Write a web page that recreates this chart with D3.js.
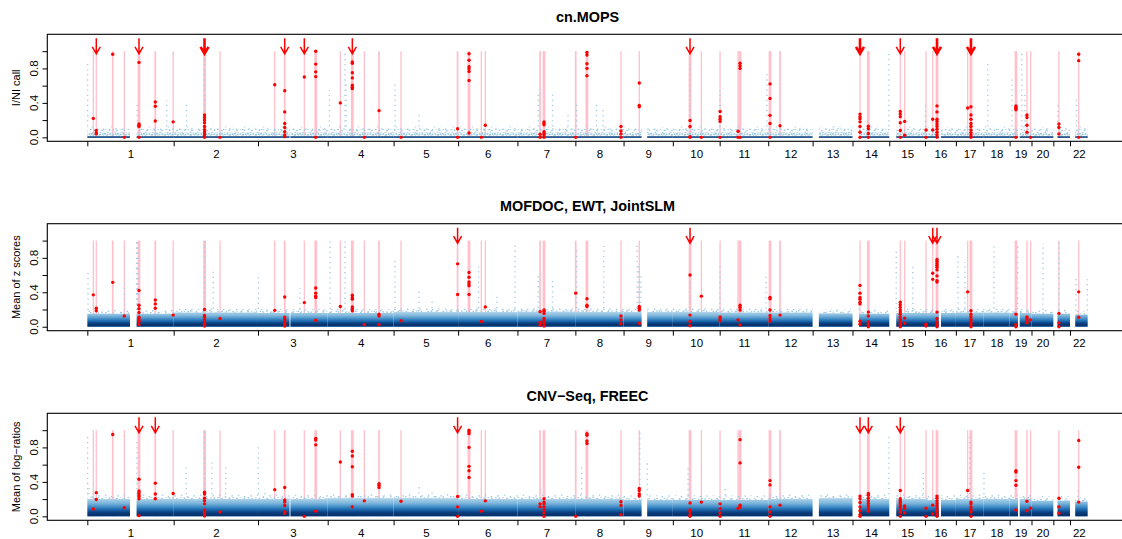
<!DOCTYPE html>
<html>
<head>
<meta charset="utf-8">
<script src="https://cdn.jsdelivr.net/npm/d3@7"></script>
<style>
  body { margin: 0; background: #fff; }
  svg { display: block; }
  text { font-family: "Liberation Sans", Arial, Helvetica, sans-serif; fill: #000; }
</style>
</head>
<body>
<svg id="chart" width="1122" height="539"></svg>
<script>
// ---------------- genome layout ----------------
const chromNames = d3.range(1, 23).map(String);
const chromLabels = ["1","2","3","4","5","6","7","8","9","10","11","12","13","14","15","16","17","18","19","20","","22"];
const chromLengthMb = [249,243,201,190,186,171,167,139,142,135,140,128,115,106,103,89,79,76,63,63,48,51];
// first covered position of each chromosome (short arms of acrocentrics carry no bins)
const chromDataStartMb = [0,0,0,0,0,0,0,0,0,0,0,0,18,19,20,0,0,0,0,0,12,15];
// uncovered stretches: [chromosome, fromMb, toMb]
const chromGapsMb = [[1,123,142],[3,91,93.5],[9,52,68],[16,40,46],[19,24,29]];

// ---------------- implanted CNV regions: [chromosome, centreMb, lengthMb] ----------------
const cnvRegions = [
  [1,17.3,1],[1,25.9,1],[1,73.2,5],[1,106.7,1],[1,149,8],[1,196,5],[1,247.5,1],
  [2,88.9,8],[2,133.6,1],
  [3,48.3,1],[3,77.1,5],[3,133.6,1],[3,166.5,8],
  [4,36.4,1],[4,71,8],[4,105.6,1],[4,148,5],
  [5,21.4,1],[5,184.5,5],
  [6,31.4,8],[6,66.9,1],[6,78.4,1],
  [7,65.2,5],[7,76.7,8],
  [8,1,5],[8,33.4,8],[8,131.5,1],
  [9,45.3,1],
  [10,49.6,8],[10,82.2,1],
  [11,1.2,1],[11,53,1],[11,58.8,8],
  [12,5.2,8],[12,34,5],
  [14,21.6,1],[14,45.6,8],
  [15,31.7,1],[15,44.4,1],
  [16,2.9,1],[16,22.2,1],[16,34.6,8],
  [17,34,1],[17,43.5,8],
  [19,18.2,8],[19,49.9,1],[19,60.5,1],
  [21,16.1,1],
  [22,25.1,1]
];

// ---------------- per-region scores of the called segments (one list per CNV region) ----------------
const mopsCalls = [
  [0.22],[0.08,0.05,0.04],[0.965],[0],[0.87,0.155,0.14,0.125,0],[0.41,0.36,0.19],[0.18],
  [0.26,0.23,0.2,0.17,0.125,0.09,0.065,0.04,0.015,0],[0],
  [0.61],[0.54,0.295,0.16,0.115,0.065,0.027,0.008],[0.70],[1.0,0.85,0.76,0.705,0],
  [0.40],[0.875,0.86,0.75,0.69,0.605,0.58,0.565],[0],[0.31],
  [0],[0.1,0],
  [0.97,0.895,0.82,0.795,0.765,0.66,0.05],[0],[0.14],
  [0.035,0],[0.18,0.16,0.145,0.065,0.045,0.027,0],
  [0],[0.985,0.955,0.855,0.8,0.715],[0.125,0.075,0.04,0],
  [0.63,0.37,0.355],
  [0.195,0.125,0.008,0],[0],
  [0.30,0.24,0.21,0.185,0],[0.07,0],[0.86,0.83,0.8,0],
  [0.62,0.45,0.255,0.16,0],[0.135],
  [0.27,0.24,0.215,0.18,0.125,0.06,0],[0.13,0.1,0.045,0],
  [0.3,0.27,0.24,0.17,0.08,0],[0.185,0.025],
  [0.085,0],[0.21,0.085],[0.365,0.295,0.21,0.185,0.155,0.125,0.095,0.06,0.03,0],
  [0.34],[0.355,0.26,0.21,0.16,0.125,0.085,0.055,0.027,0],
  [0.365,0.35,0.335,0.32,0],[0.26,0.23,0.14,0.06],[0],
  [0.155,0.115,0.04],
  [0.965,0.89,0]
];
const zScoreCalls = [
  [0.37],[0.215,0.185],[0.515],[0.125],[0.42,0.25,0.21,0.165,0.11,0.085,0.06,0.025],[0.31,0.265,0.215],[0.135],
  [0.2,0.13,0.11,0.08,0.055,0.03,0.008],[0.095],
  [0.19],[0.345,0.11,0.085,0.06,0.03,0.008],[0.28],[0.45,0.39,0.355,0.34,0.075],
  [0.235],[0.365,0.34,0.32,0.23,0.21,0.185],[0.025],[0.145,0.125,0.025],
  [0.07],[0.73,0.375],
  [0.63,0.575,0.52,0.495,0.475,0.375],[0.06],[0.23],
  [0.175,0.05,0.02],[0.195,0.18,0.155,0.095,0.07,0.04,0.008],
  [0.39],[0.325,0.25,0.235],[0.125,0.08,0.035],
  [0.235,0.215,0.195,0.04],
  [0.60,0.135,0.06,0.012],[0.355],
  [0.115,0.095,0.07],[0.08],[0.25,0.225,0.195,0.02],
  [0.34,0.325,0.195,0.13,0.095,0.065],[0.135],
  [0.48,0.39,0.34,0.32,0.285,0.265,0.065,0.03],[0.17,0.125,0.055,0.025,0],
  [0.285,0.255,0.225,0.195,0.17,0.145,0.115,0.085,0.055,0.025,0],[0.1,0.04],
  [0.03,0.008],[0.62,0.55],[0.78,0.76,0.735,0.715,0.69,0.66,0.59,0.535,0.52,0.17,0.095,0.055,0.025,0],
  [0.405],[0.185,0.145,0.115,0.085,0.055,0.025,0],
  [0.145,0.025,0],[0.115,0.095,0.07,0.045],[0.08],
  [0.155,0.045,0],
  [0.405,0.11]
];
const logRatioCalls = [
  [0.085],[0.275,0.195],[0.95],[0.1],[0.43,0.295,0.275,0.25,0.23,0.205,0.008],[0.385,0.26,0.205],[0.265],
  [0.28,0.26,0.21,0.18,0.145,0.075,0.05,0.027,0.004],[0.05],
  [0.31],[0.335,0.19,0.165,0.125,0.055,0.035],[0],[0.905,0.885,0.83,0.06],
  [0.63],[0.755,0.70,0.575,0.25,0.235,0.11],[0.18],[0.38,0.36,0.335],
  [0.175],[0.23,0.11,0],
  [1.0,0.98,0.96,0.8,0.58,0.53,0.45],[0.06],[0.18],
  [0.145,0.11],[0.205,0.165,0.145,0.11,0.075,0.04,0],
  [0],[0.96,0.94,0.875,0.845],[0.17,0.125,0.02],
  [0.325,0.3,0.26,0.235],
  [0.155,0.075,0.055,0.02,0],[0.165],
  [0.145,0.09,0.04,0],[0.095],[0.89,0.62,0.13,0.105],
  [0.415,0.365,0.11,0.05,0],[0.13],
  [0.235,0.205,0.16,0.11,0.065,0.02,0],[0.265,0.245,0.21,0.18,0.15,0.12,0.09,0.06],
  [0.3,0.205,0.18,0.16,0.135,0.11,0.08,0.045,0],[0.12,0.095,0.04],
  [0.095,0],[0.13,0.027],[0.235,0.21,0.18,0.15,0.12,0.09,0.06,0.027,0],
  [0.3],[0.165,0.145,0.11,0.08,0.05,0],
  [0.53,0.515,0.415,0.36,0.075],[0.175,0.065],[0.095],
  [0.21,0.11,0.035],
  [0.88,0.57,0.165]
];

// regions flagged with an arrow (1-based region numbers); the "Bold" lists are flagged twice
const mopsArrows = [2,5,8,11,12,15,29,36,38,42,44];
const mopsArrowsBold = [8,36,42,44];
const zScoreArrows = [19,29,41,42];
const zScoreArrowsBold = [];
const logRatioArrows = [5,6,19,36,37,38];
const logRatioArrowsBold = [];

// ---------------- background bins ----------------
// upper edge of the dense bulk of bin scores, per chromosome
const mopsBandTop = [0.085,0.085,0.085,0.085,0.085,0.085,0.085,0.085,0.08,0.085,0.085,0.085,0.09,0.085,0.085,0.08,0.085,0.085,0.085,0.08,0.08,0.085];
const zScoreBandTop = [0.15,0.165,0.16,0.16,0.17,0.17,0.175,0.17,0.17,0.17,0.165,0.165,0.155,0.15,0.16,0.16,0.165,0.165,0.16,0.15,0.15,0.14];
const logRatioBandTop = [0.2,0.2,0.2,0.21,0.21,0.2,0.2,0.2,0.19,0.19,0.19,0.2,0.21,0.2,0.2,0.19,0.2,0.2,0.2,0.18,0.18,0.17];
// streaks of high-scoring bins: [chromosome, Mb, highest score]
const mopsStreaks = [
  [1,1,0.86],[1,144,0.42],[1,229,0.43],[2,37,0.4],[2,90,0.95],[4,5,0.55],[4,50,0.98],[4,53,0.63],
  [5,4,0.62],[5,73,0.3],[7,60,0.5],[7,101,0.5],[7,146,0.3],[8,4,0.38],[8,61,0.38],[8,80,0.35],
  [10,49,0.88],[11,1,0.55],[11,136,0.75],[14,105,0.97],[16,1,0.38],[18,13,0.88],[19,7,0.67],
  [19,35,1.0],[19,44,0.5],[21,13,0.42],[22,19,0.45]
];
const zScoreStreaks = [
  [1,2,0.65],[1,108,0.55],[1,142,1.0],[1,144,1.0],[1,146,0.95],[2,90,1.0],[2,114,0.65],[3,1,0.62],[3,121,0.45],
  [4,7,1.0],[4,50,1.0],[5,4,0.8],[5,73,0.45],[5,111,0.3],[6,59,0.7],[6,112,0.35],[6,164,0.95],
  [7,60,0.6],[7,101,0.55],[8,4,0.9],[8,82,0.98],[9,39,0.95],[9,44,0.7],[9,50,0.6],[10,49,0.6],
  [11,1,0.7],[11,134,0.6],[14,19,0.5],[15,20,0.9],[15,68,0.7],[17,6,0.85],[17,26,0.75],
  [18,31,0.95],[19,23,0.95],[20,33,0.97],[21,16,1.0],[22,17,0.6],[22,50,0.55]
];
const logRatioStreaks = [
  [1,1,0.95],[1,5,0.35],[1,143,0.9],[2,36,0.6],[2,90,1.0],[2,110,0.65],[2,150,0.57],[3,1,0.85],
  [3,20,0.32],[5,73,0.35],[5,111,0.3],[8,18,0.6],[9,47,1.0],[9,68,0.62],[10,44,0.6],[11,16,0.35],
  [14,105,0.95],[15,98,0.55],[17,40,0.92],[18,2,0.52],[22,23,0.3]
];

// ---------------- panels ----------------
const panelTitles = ["cn.MOPS", "MOFDOC, EWT, JointSLM", "CNV\u2212Seq, FREEC"];
const panelYLabels = ["I/NI call", "Mean of z scores", "Mean of log\u2212ratios"];
const yTickValues = [0, 0.2, 0.4, 0.6, 0.8, 1.0];
const yTickLabels = ["0.0", "", "0.4", "", "0.8", ""];

const panelCalls = [mopsCalls, zScoreCalls, logRatioCalls];
const panelArrows = [mopsArrows, zScoreArrows, logRatioArrows];
const panelArrowsBold = [mopsArrowsBold, zScoreArrowsBold, logRatioArrowsBold];
const panelBandTop = [mopsBandTop, zScoreBandTop, logRatioBandTop];
const panelStreaks = [mopsStreaks, zScoreStreaks, logRatioStreaks];

// ---------------- geometry ----------------
const svg = d3.select("#chart");
const plotLeft = 47.3, plotRight = 1127.7;
const panelOffsets = [0, 189.4, 379];
const plotTop0 = 34.3, plotBottom0 = 141.3;

const chromStartMb = [];
chromLengthMb.reduce((acc, len, i) => { chromStartMb[i] = acc; return acc + len; }, 0);
const genomeMb = d3.sum(chromLengthMb);
const gpos = (chrom, mb) => chromStartMb[chrom - 1] + mb;

const x = d3.scaleLinear()
  .domain([-0.04 * genomeMb, 1.04 * genomeMb])
  .range([plotLeft, plotRight]);

// covered stretches per chromosome
const segments = [];
chromLengthMb.forEach((len, i) => {
  const c = i + 1;
  let pieces = [[chromDataStartMb[i], len]];
  chromGapsMb.filter(g => g[0] === c).forEach(g => {
    pieces = pieces.flatMap(p => (g[1] >= p[1] || g[2] <= p[0]) ? [p]
      : [[p[0], g[1]], [g[2], p[1]]].filter(q => q[1] > q[0]));
  });
  pieces.forEach(p => segments.push({ chrom: c, from: p[0], to: p[1] }));
});

// ---------------- shared defs ----------------
const defs = svg.append("defs");
defs.append("clipPath").attr("id", "plotClip")
  .append("rect").attr("x", 0).attr("y", 0).attr("width", 1122).attr("height", 539);

// speckle textures standing in for the crowd of individual light-blue bins
function speckle(id, w, h, dots, color, size) {
  const p = defs.append("pattern").attr("id", id)
    .attr("patternUnits", "userSpaceOnUse").attr("width", w).attr("height", h);
  dots.forEach(d => p.append("rect").attr("x", d[0]).attr("y", d[1])
    .attr("width", size[0]).attr("height", size[1]).attr("fill", color));
}
speckle("speckleDense", 13, 7,
  [[0,0],[2.6,0.6],[5.4,0.2],[8.1,0.9],[10.7,0.3],[1.3,2.5],[4.2,3.0],[6.9,2.6],[9.6,3.2],[12.0,2.4],
   [0.5,4.9],[3.1,5.4],[5.8,4.8],[8.6,5.5],[11.2,5.0]], "#9ecae1", [1.9, 1.7]);
speckle("speckleMid", 15, 8,
  [[0,0],[3.7,1.4],[7.5,0.3],[11.2,1.8],[1.8,3.9],[5.6,4.6],[9.6,3.7],[13.1,4.9],[0.7,6.4],[7.4,6.6],[11.0,6.2]], "#9ecae1", [1.6, 1.5]);
speckle("speckleSparse", 19, 10,
  [[0,0],[6.3,1.8],[12.6,0.6],[3.4,5.2],[9.8,4.4],[15.7,6.0],[1.2,8.3],[7.9,8.6],[14.0,9.0]], "#a3cce3", [1.5, 1.4]);

const gradStops = [
  [[0, "#2a6aa8"], [0.008, "#08306b"], [0.04, "#0a3f80"], [0.07, "#2171b5"], [0.1, "#4f96cc"], [0.13, "#80b8dc"], [0.165, "#a6cee6"]],
  [[0, "#2a6aa8"], [0.008, "#08306b"], [0.045, "#0a3f80"], [0.085, "#2171b5"], [0.12, "#4f96cc"], [0.155, "#80b8dc"], [0.2, "#a6cee6"]]
];

// ---------------- draw each panel ----------------
panelTitles.forEach((title, pi) => {
  const off = panelOffsets[pi];
  const top = plotTop0 + off, bottom = plotBottom0 + off;
  const y = d3.scaleLinear().domain([-0.046, 1.196]).range([bottom, top]);
  const g = svg.append("g").attr("clip-path", "url(#plotClip)");

  // pink CNV regions
  g.append("g").selectAll("rect").data(cnvRegions).join("rect")
    .attr("x", d => { const w = Math.max(1.3, x(d[2]) - x(0)); return x(gpos(d[0], d[1])) - w / 2; })
    .attr("width", d => Math.max(1.3, x(d[2]) - x(0)))
    .attr("y", y(1)).attr("height", y(0) - y(1))
    .attr("fill", "#ffc0cb");

  const bandTop = panelBandTop[pi];
  const bg = g.append("g");
  const fringe = pi === 0 ? 0.04 : (pi === 1 ? 0.045 : 0.055);
  const segX = d => x(gpos(d.chrom, d.from));
  const segW = d => x(gpos(d.chrom, d.to)) - x(gpos(d.chrom, d.from));

  // streaks of high bins
  bg.selectAll("line.streak").data(panelStreaks[pi]).join("line")
    .attr("class", "streak")
    .attr("x1", d => x(gpos(d[0], d[1]))).attr("x2", d => x(gpos(d[0], d[1])))
    .attr("y1", d => y(bandTop[d[0] - 1] + fringe)).attr("y2", d => y(d[2]))
    .attr("stroke", "#a3cce3").attr("stroke-width", 1.3)
    .attr("stroke-dasharray", "1.3,3.8");

  // layered speckle: densest just above the bulk, thinning upwards
  const layer = (cls, from, to, fill) => bg.selectAll("rect." + cls).data(segments).join("rect").attr("class", cls)
    .attr("x", segX).attr("width", segW)
    .attr("y", d => y(bandTop[d.chrom - 1] + to)).attr("height", d => y(bandTop[d.chrom - 1] + from) - y(bandTop[d.chrom - 1] + to))
    .attr("fill", fill);

  if (pi === 0) {
    layer("fringe2", 0.0, fringe, "url(#speckleSparse)");
    layer("fringe1", -0.03, 0.012, "url(#speckleMid)");
    bg.selectAll("rect.band").data(segments).join("rect").attr("class", "band")
      .attr("x", segX).attr("width", segW)
      .attr("y", d => y(bandTop[d.chrom - 1] - 0.03)).attr("height", d => y(0.005) - y(bandTop[d.chrom - 1] - 0.03))
      .attr("fill", "url(#speckleDense)");
    bg.selectAll("rect.zero").data(segments).join("rect").attr("class", "zero")
      .attr("x", segX).attr("width", segW)
      .attr("y", y(0.012)).attr("height", y(-0.006) - y(0.012))
      .attr("fill", "#0d417c");
  } else {
    const gid = "bandGrad" + pi;
    const stops = gradStops[pi - 1];
    const lg = defs.append("linearGradient").attr("id", gid)
      .attr("gradientUnits", "userSpaceOnUse")
      .attr("x1", 0).attr("x2", 0).attr("y1", y(0)).attr("y2", y(stops.at(-1)[0]));
    stops.forEach(s => lg.append("stop")
      .attr("offset", s[0] / stops.at(-1)[0]).attr("stop-color", s[1]));
    layer("fringe2", 0.0, fringe, "url(#speckleSparse)");
    layer("fringe1", 0.0, fringe * 0.45, "url(#speckleMid)");
    bg.selectAll("rect.band").data(segments).join("rect").attr("class", "band")
      .attr("x", segX).attr("width", segW)
      .attr("y", d => y(bandTop[d.chrom - 1])).attr("height", d => y(-0.002) - y(bandTop[d.chrom - 1]))
      .attr("fill", `url(#${gid})`);
  }

  // red called segments
  const dots = [];
  panelCalls[pi].forEach((vals, ri) => vals.forEach(v => dots.push({ r: cnvRegions[ri], v })));
  g.append("g").selectAll("circle").data(dots).join("circle")
    .attr("cx", d => x(gpos(d.r[0], d.r[1]))).attr("cy", d => y(d.v))
    .attr("r", 1.7).attr("fill", "#ff0000");

  // arrows marking detected regions
  const arrowPath = (px, y0, y1) => {
    const len = 8, a = Math.PI / 6, dx = len * Math.sin(a), dy = len * Math.cos(a);
    return `M${px},${y0}L${px},${y1}M${px - dx},${y1 - dy}L${px},${y1}L${px + dx},${y1 - dy}`;
  };
  const bold = panelArrowsBold[pi];
  g.append("g").selectAll("path").data(panelArrows[pi]).join("path")
    .attr("d", n => { const r = cnvRegions[n - 1]; return arrowPath(x(gpos(r[0], r[1])), y(1.15), y(0.97)); })
    .attr("fill", "none").attr("stroke", "#ff0000")
    .attr("stroke-width", n => bold.includes(n) ? 2.6 : 1.5);

  // frame
  svg.append("rect").attr("x", plotLeft).attr("y", top)
    .attr("width", plotRight - plotLeft).attr("height", bottom - top)
    .attr("fill", "none").attr("stroke", "#000").attr("stroke-width", 1.1);

  // x axis: ticks at chromosome starts, labels at chromosome centres
  const xTicks = svg.append("g").attr("transform", `translate(0,${bottom})`)
    .call(d3.axisBottom(x).tickValues(chromStartMb).tickSize(5).tickFormat(""));
  xTicks.select(".domain").remove();
  xTicks.selectAll("line").attr("stroke", "#000").attr("stroke-width", 1);
  const xLabels = svg.append("g").attr("transform", `translate(0,${bottom})`)
    .call(d3.axisBottom(x).tickValues(chromStartMb.map((s, i) => s + chromLengthMb[i] / 2))
      .tickSize(0).tickPadding(0).tickFormat((d, i) => chromLabels[i]));
  xLabels.select(".domain").remove();
  xLabels.selectAll("text").attr("dy", null).attr("y", 16.4)
    .style("font-size", "11.5px").style("font-family", '"Liberation Sans", Arial, sans-serif');

  // y axis
  const yAx = svg.append("g").attr("transform", `translate(${plotLeft},0)`)
    .call(d3.axisLeft(y).tickValues(yTickValues).tickSize(4.8).tickFormat(""));
  yAx.select(".domain").remove();
  yAx.selectAll("line").attr("stroke", "#000");
  svg.append("g").selectAll("text").data(yTickValues.filter((v, i) => yTickLabels[i])).join("text")
    .attr("transform", v => `translate(37.6,${y(v)}) rotate(-90)`)
    .attr("text-anchor", "middle").style("font-size", "11.5px")
    .text(v => yTickLabels[yTickValues.indexOf(v)]);

  // y label
  svg.append("text")
    .attr("transform", `translate(19.5,${(top + bottom) / 2}) rotate(-90)`)
    .attr("text-anchor", "middle").style("font-size", "11px")
    .text(panelYLabels[pi]);

  // title
  svg.append("text").attr("x", (plotLeft + plotRight) / 2).attr("y", 21.7 + off)
    .attr("text-anchor", "middle").style("font-size", "14.4px").style("font-weight", "bold")
    .text(title);
});
</script>
</body>
</html>
